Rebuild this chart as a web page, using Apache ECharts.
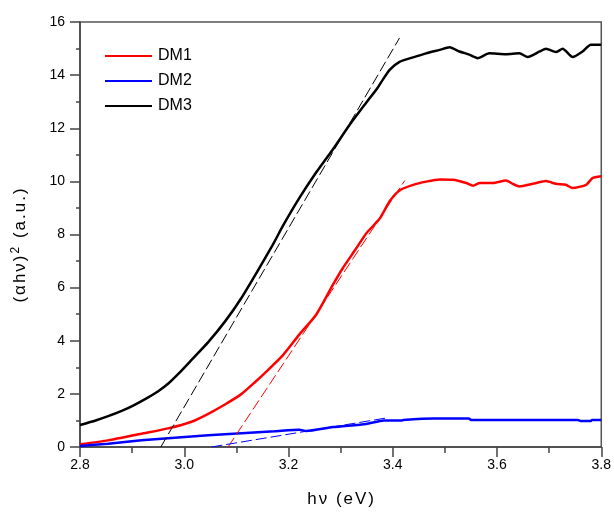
<!DOCTYPE html>
<html>
<head>
<meta charset="utf-8">
<script src="https://cdn.jsdelivr.net/npm/echarts@6/dist/echarts.min.js"></script>
<style>html,body{margin:0;padding:0;background:#fff}#c{width:614px;height:513px}</style>
</head>
<body>
<div id="c"></div>
<script>
// ---- data ----
const xTicks = ['2.8','3.0','3.2','3.4','3.6','3.8'];
const yTicks = ['0','2','4','6','8','10','12','14','16'];
const seriesNames = ['DM1','DM2','DM3'];

const xDM1 = [2.80,2.854,2.918,2.969,3.014,3.046,3.078,3.110,3.135,3.158,3.189,3.221,3.253,3.285,3.304,3.330,3.349,3.375,3.394,3.413,3.439,3.464,3.490,3.515,3.541,3.554,3.567,3.592,3.617,3.630,3.643,3.669,3.694,3.713,3.732,3.745,3.771,3.783,3.800];
const yDM1 = [0.10,0.25,0.50,0.70,0.95,1.25,1.60,2.00,2.43,2.85,3.45,4.24,4.98,6.10,6.73,7.48,8.04,8.60,9.25,9.66,9.87,9.99,10.07,10.06,9.94,9.84,9.94,9.94,10.03,9.91,9.81,9.91,10.01,9.91,9.87,9.75,9.87,10.12,10.19];

const xDM2 = [2.80,2.854,2.918,2.982,3.046,3.110,3.173,3.221,3.234,3.285,3.349,3.383,3.418,3.420,3.479,3.546,3.550,3.755,3.760,3.780,3.782,3.800];
const yDM2 = [0.04,0.12,0.25,0.35,0.44,0.52,0.59,0.65,0.60,0.75,0.87,1.00,1.00,1.02,1.07,1.07,1.02,1.02,0.98,0.98,1.02,1.02];

const xDM3 = [2.80,2.83,2.854,2.88,2.902,2.93,2.950,2.970,2.990,3.014,3.046,3.078,3.110,3.140,3.170,3.190,3.220,3.250,3.285,3.317,3.349,3.370,3.381,3.394,3.413,3.439,3.464,3.490,3.509,3.528,3.547,3.563,3.585,3.617,3.643,3.659,3.682,3.694,3.713,3.726,3.745,3.764,3.780,3.800];
const yDM3 = [0.83,1.00,1.16,1.36,1.56,1.86,2.10,2.40,2.78,3.28,3.95,4.72,5.62,6.60,7.62,8.35,9.35,10.25,11.20,12.12,12.96,13.50,13.83,14.20,14.50,14.67,14.82,14.95,15.05,14.89,14.77,14.64,14.82,14.79,14.82,14.68,14.89,14.99,14.87,14.99,14.68,14.89,15.14,15.14];

// tangent (extrapolation) lines: end points
const tanDM1X = [3.084, 3.423];
const tanDM1Y = [0, 10.03];
const tanDM2X = [3.052, 3.390];
const tanDM2Y = [0, 1.10];
const tanDM3X = [2.955, 3.413];
const tanDM3Y = [0, 15.4];

const pairs = (xs, ys) => xs.map((x, i) => [x, ys[i]]);

const RED = '#ff0000', BLUE = '#0000ff', BLACK = '#000000';
const FONT = '"Liberation Sans", Arial, sans-serif';

// letter-spaced rich text helper
const spaced = s => Array.from(s).map(ch => '{c|' + ch + '}').join('');

const chart = echarts.init(document.getElementById('c'), null, {renderer: 'canvas'});

const curve = (name, data, color) => ({
  name, type: 'line', data, showSymbol: false, symbol: 'none', smooth: 0.2,
  lineStyle: {color, width: 2.5}, itemStyle: {color}, z: 3, animation: false
});
const tangent = (data, color) => ({
  type: 'line', data, showSymbol: false, symbol: 'none',
  lineStyle: {color, width: 1, type: [11, 4]}, z: 4, animation: false, silent: true
});

chart.setOption({
  animation: false,
  backgroundColor: '#fff',
  grid: {left: 80, right: 11, top: 22, bottom: 63, show: true, borderColor: '#555', borderWidth: 1.5, containLabel: false},
  legend: {
    data: seriesNames, orient: 'vertical', left: 100, top: 42,
    itemWidth: 47, itemHeight: 2, itemGap: 7, icon: 'rect',
    textStyle: {fontFamily: FONT, fontSize: 16, color: '#000', lineHeight: 18, padding: [0,0,0,1]}
  },
  xAxis: {
    type: 'value', min: 2.8, max: 3.8, interval: 0.2,
    name: spaced('hν (eV)'), nameLocation: 'middle', nameGap: 44,
    nameTextStyle: {fontFamily: FONT, fontSize: 17, color: '#000',
      rich: {c: {fontFamily: FONT, fontSize: 17, color: '#000', padding: [0, 1, 0, 1]}}},
    axisLine: {show: true, lineStyle: {color: '#444', width: 1.5}},
    axisTick: {show: true, length: 10, lineStyle: {color: '#444', width: 1.5}},
    minorTick: {show: true, splitNumber: 2, length: 6, lineStyle: {color: '#444', width: 1.5}},
    splitLine: {show: false},
    axisLabel: {fontFamily: FONT, fontSize: 14, color: '#000', margin: 11,
      formatter: v => { const s = v.toFixed(1); return xTicks.includes(s) ? s : ''; }}
  },
  yAxis: {
    type: 'value', min: 0, max: 16, interval: 2,
    name: spaced('(αhν)') + '{sup|2}' + spaced(' (a.u.)'), nameLocation: 'middle', nameGap: 49, nameRotate: 90,
    nameTextStyle: {fontFamily: FONT, fontSize: 17, color: '#000', padding: [0, 22, 0, 0],
      rich: {
        c: {fontFamily: FONT, fontSize: 17, color: '#000', padding: [0, 1, 0, 1]},
        sup: {fontFamily: FONT, fontSize: 12, color: '#000', verticalAlign: 'top', padding: [0, 1, 9, 1]}
      }},
    axisLine: {show: true, lineStyle: {color: '#444', width: 1.5}},
    axisTick: {show: true, length: 10, lineStyle: {color: '#444', width: 1.5}},
    minorTick: {show: true, splitNumber: 2, length: 4, lineStyle: {color: '#444', width: 1.5}},
    splitLine: {show: false},
    axisLabel: {fontFamily: FONT, fontSize: 14, color: '#000', margin: 15,
      formatter: v => { const s = String(Math.round(v)); return yTicks.includes(s) ? s : ''; }}
  },
  series: [
    curve('DM1', pairs(xDM1, yDM1), RED),
    curve('DM2', pairs(xDM2, yDM2), BLUE),
    curve('DM3', pairs(xDM3, yDM3), BLACK),
    tangent(pairs(tanDM1X, tanDM1Y), RED),
    tangent(pairs(tanDM2X, tanDM2Y), BLUE),
    tangent(pairs(tanDM3X, tanDM3Y), BLACK)
  ]
});
</script>
</body>
</html>
